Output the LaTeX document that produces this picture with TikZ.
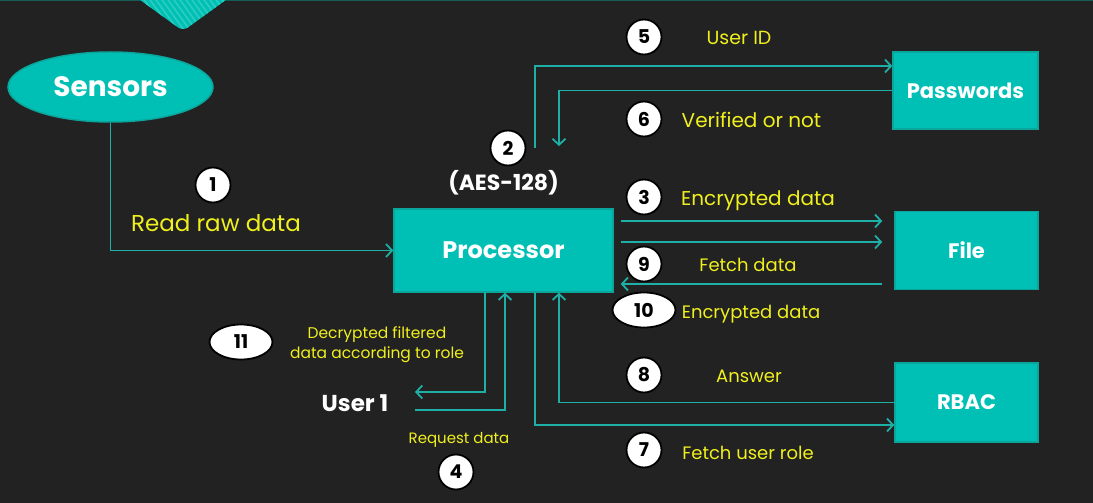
\documentclass[tikz,border=0pt]{standalone}
\usepackage{fontspec}
\setmainfont{Poppins}
\usetikzlibrary{arrows.meta, shapes.geometric}

\definecolor{bgdark}{RGB}{34,34,34}
\definecolor{tealfill}{RGB}{0,192,181}
\definecolor{tealedge}{RGB}{10,165,155}
\definecolor{flowline}{RGB}{30,176,166}
\definecolor{labelyellow}{RGB}{240,240,30}
\definecolor{topline}{RGB}{24,92,86}
\definecolor{stripe}{RGB}{45,206,193}

\tikzset{
	flow/.style = {draw = flowline, line width = 1.8pt, -{Straight Barb[length = 6pt, width = 13pt, line width = 1.8pt]}},
	box/.style = {rectangle, fill = tealfill, draw = tealedge, line width = 1.5pt, text = white, font = \bfseries\fontsize{21}{26}\selectfont},
	num/.style = {circle, fill = white, draw = black, line width = 1.8pt, minimum size = 35pt, inner sep = 0pt, font = \bfseries\fontsize{19}{22}\selectfont},
	numwide/.style = {num, ellipse, minimum width = 63pt, minimum height = 35pt},
	note/.style = {text = labelyellow, inner sep = 0pt, text height = 0.75em, text depth = 0.25em},
	title/.style = {text = white, inner sep = 0pt, font = \bfseries\fontsize{23}{26}\selectfont}
}

\begin{document}
\begin{tikzpicture}[x = 1pt, y = -1pt]
	
	\fill[bgdark] (0, 0) rectangle (1093, 503);
	\useasboundingbox (0, 0) rectangle (1093, 503);
	\draw[topline, line width = 2pt] (0, 0.5) -- (1093, 0.5);
	
	\begin{scope}
		\clip[rounded corners = 6pt] (136, -3) -- (183, 31) -- (230, -3) -- cycle;
		\fill[tealfill] (130, -3) rectangle (236, 32);
		\foreach \i in {0, ..., 22} {
			\draw[stripe, line width = 1.5pt] (100 + 6*\i, -3) -- ++(26, 36);
		}
	\end{scope}
	
	\node[ellipse, fill = tealfill, draw = tealedge, line width = 1.5pt, minimum width = 205pt, minimum height = 70pt, text = white, font = \bfseries\fontsize{28}{32}\selectfont] (sensors) at (110.5, 87) {Sensors};
	\node[box, minimum width = 219pt, minimum height = 83pt, font = \bfseries\fontsize{24}{28}\selectfont] (processor) at (503.5, 250.5) {Processor};
	\node[box, minimum width = 145pt, minimum height = 77pt] (passwords) at (965.5, 90.5) {Passwords};
	\node[box, minimum width = 143pt, minimum height = 78pt] (file) at (966.5, 250.5) {File};
	\node[box, minimum width = 143pt, minimum height = 79pt] (rbac) at (966.5, 402.5) {RBAC};
	
	\node[title, font = \bfseries\fontsize{22}{26}\selectfont] (aes) at (503.5, 183) {(AES-128)};
	\node[title] (user) at (355, 403) {User 1};
	
	\node[num] (n1) at (213, 185) {1};
	\node[num] (n2) at (508, 148) {2};
	\node[num] (n3) at (644, 197) {3};
	\node[num] (n4) at (456, 472) {4};
	\node[num] (n5) at (644, 37) {5};
	\node[num] (n6) at (644, 119) {6};
	\node[num] (n7) at (644, 450) {7};
	\node[num] (n8) at (644, 375) {8};
	\node[num] (n9) at (644, 264) {9};
	\node[numwide] (n10) at (644, 310) {10};
	\node[numwide] (n11) at (241, 342) {11};
	
	\node[note, font = \fontsize{23}{26}\selectfont] (t1) at (216, 229) {Read raw data};
	\node[note, font = \fontsize{20}{24}\selectfont] (t3) at (758, 202.5) {Encrypted data};
	\node[note, font = \fontsize{19}{22}\selectfont] (t5) at (739, 42) {User ID};
	\node[note, font = \fontsize{20}{24}\selectfont] (t6) at (751.5, 125) {Verified or not};
	\node[note, font = \fontsize{18}{22}\selectfont] (t9) at (748, 269) {Fetch data};
	\node[note, font = \fontsize{18}{22}\selectfont] (t10) at (751, 315.5) {Encrypted data};
	\node[note, font = \fontsize{18}{22}\selectfont] (t8) at (749, 380) {Answer};
	\node[note, font = \fontsize{18}{22}\selectfont] (t7) at (748, 457) {Fetch user role};
	\node[note, font = \fontsize{15}{18}\selectfont] (t4) at (459, 440.5) {Request data};
	\node[note, font = \fontsize{15.5}{20}\selectfont, align = center, text height = {}, text depth = {}] (t11) at (377, 345) {Decrypted filtered\\data according to role};
	
	\coordinate (c2) at (535, 148);
	\coordinate (c6) at (559, 146);
	\coordinate (u11) at (415, 392);
	\coordinate (u4) at (415, 410);
	
	\draw[flow] (sensors.south) |- (processor.west);
	\draw[flow] (c2) |- ([yshift = 24.5pt]passwords.west);
	\draw[flow] (passwords.west) -| (c6);
	
	\draw[flow, shorten <= 7pt, shorten >= 12pt] ([yshift = 29.5pt]processor.east) -- ([yshift = 29.5pt]file.west);
	\draw[flow, shorten <= 7pt, shorten >= 12pt] ([yshift = 8.5pt]processor.east) -- ([yshift = 8.5pt]file.west);
	\draw[flow, shorten <= 12pt, shorten >= 7pt] ([yshift = -33.5pt]file.west) -- ([yshift = -33.5pt]processor.east);
	
	\draw[flow] ([xshift = -18.5pt]processor.south) |- (u11);
	\draw[flow] (u4) -| ([xshift = 1.5pt]processor.south);
	\draw[flow] ([xshift = 31.5pt]processor.south) |- ([yshift = -22.5pt]rbac.west);
	\draw[flow] (rbac.west) -| ([xshift = 55.5pt]processor.south);
	
\end{tikzpicture}
\end{document}
